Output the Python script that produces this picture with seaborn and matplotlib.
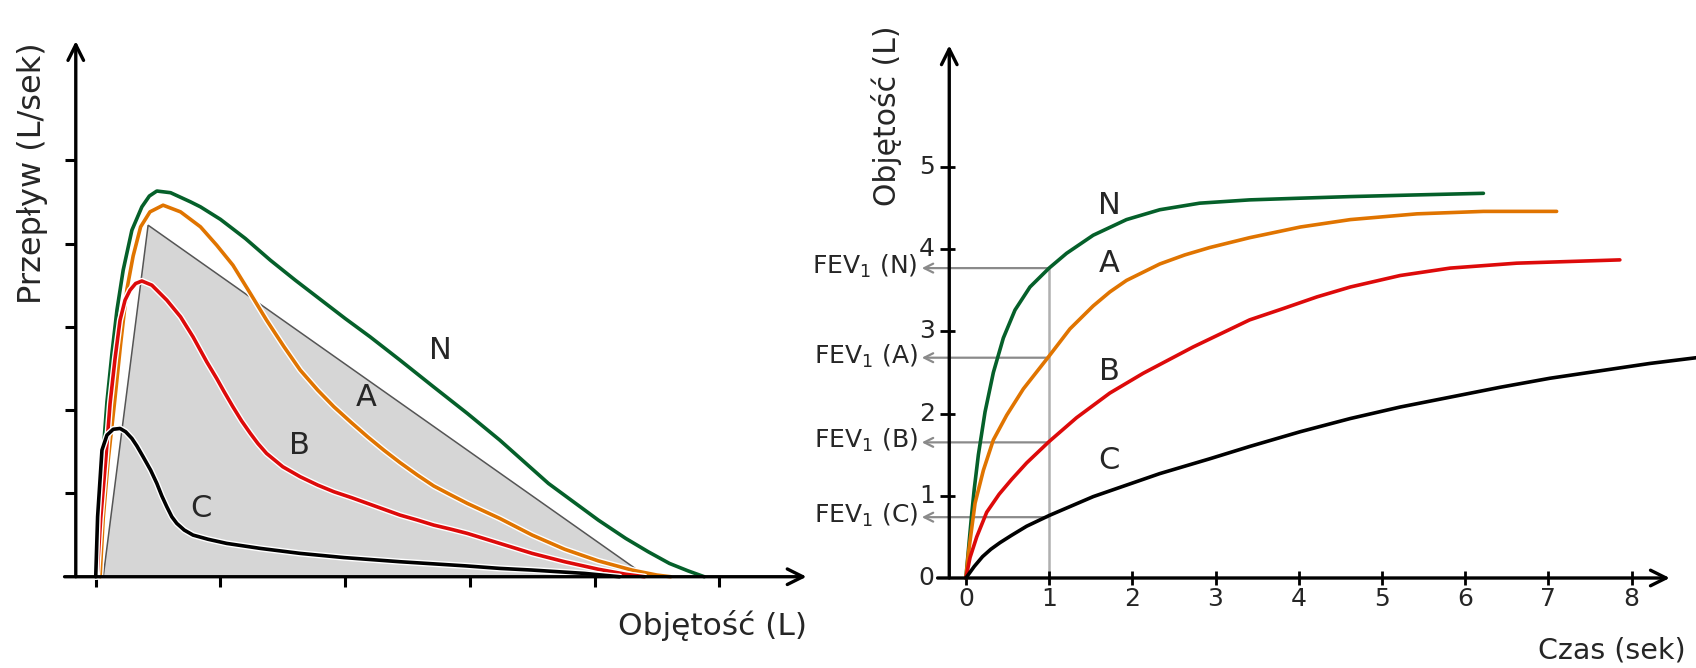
import matplotlib
matplotlib.use('Agg')
import matplotlib.pyplot as plt
import matplotlib.patheffects as pe
import seaborn as sns
import pandas as pd

sns.set_style('white')
plt.rcParams['font.family'] = ['DejaVu Sans']

# --- left panel: flow-volume curves (Objetosc L vs Przeplyw L/sek)
vol_N = [0, 0.03, 0.06, 0.09, 0.13, 0.17, 0.22, 0.29, 0.37, 0.43, 0.49, 0.60, 0.76, 0.84, 1.0, 1.2, 1.4, 1.6, 1.8, 2.0, 2.2, 2.44, 2.7, 2.98, 3.24, 3.63, 4.03, 4.25, 4.43, 4.6, 4.75, 4.88]
flow_N = [0, 0.8, 1.5, 2.1, 2.68, 3.2, 3.68, 4.16, 4.44, 4.57, 4.63, 4.61, 4.50, 4.44, 4.29, 4.06, 3.80, 3.56, 3.33, 3.10, 2.88, 2.60, 2.29, 1.96, 1.64, 1.12, 0.68, 0.46, 0.30, 0.16, 0.07, 0.0]
vol_A = [0.035, 0.06, 0.10, 0.15, 0.20, 0.25, 0.30, 0.36, 0.435, 0.54, 0.68, 0.84, 0.97, 1.10, 1.24, 1.37, 1.51, 1.64, 1.78, 1.91, 2.05, 2.18, 2.31, 2.44, 2.58, 2.71, 2.85, 2.98, 3.24, 3.50, 3.76, 4.03, 4.30, 4.50, 4.61]
flow_A = [0, 0.7, 1.4, 2.08, 2.8, 3.45, 3.85, 4.2, 4.38, 4.46, 4.38, 4.20, 3.98, 3.74, 3.40, 3.08, 2.76, 2.48, 2.24, 2.04, 1.85, 1.68, 1.52, 1.37, 1.22, 1.09, 0.98, 0.88, 0.70, 0.50, 0.33, 0.19, 0.08, 0.02, 0.0]
vol_B = [0.01, 0.04, 0.08, 0.115, 0.155, 0.195, 0.235, 0.275, 0.32, 0.37, 0.45, 0.57, 0.68, 0.78, 0.89, 0.97, 1.03, 1.10, 1.17, 1.24, 1.30, 1.37, 1.50, 1.64, 1.78, 1.91, 2.05, 2.18, 2.31, 2.44, 2.58, 2.71, 2.85, 2.98, 3.24, 3.50, 3.76, 4.03, 4.25, 4.40]
flow_B = [0, 0.7, 1.4, 2.08, 2.62, 3.08, 3.32, 3.44, 3.52, 3.55, 3.50, 3.32, 3.12, 2.88, 2.58, 2.38, 2.22, 2.04, 1.87, 1.72, 1.60, 1.48, 1.32, 1.20, 1.10, 1.02, 0.95, 0.88, 0.81, 0.74, 0.68, 0.62, 0.57, 0.52, 0.40, 0.28, 0.18, 0.09, 0.03, 0.0]
vol_C = [0, 0.015, 0.05, 0.09, 0.14, 0.195, 0.24, 0.29, 0.33, 0.38, 0.44, 0.49, 0.53, 0.57, 0.61, 0.65, 0.71, 0.78, 0.9, 1.05, 1.32, 1.64, 1.99, 2.44, 2.97, 3.24, 3.50, 3.92, 4.20]
flow_C = [0, 0.72, 1.52, 1.70, 1.77, 1.78, 1.74, 1.66, 1.57, 1.44, 1.28, 1.12, 0.97, 0.84, 0.72, 0.64, 0.56, 0.50, 0.45, 0.40, 0.34, 0.28, 0.23, 0.18, 0.13, 0.10, 0.08, 0.04, 0.0]
tri_vol = [0.06, 0.42, 4.42]
tri_flow = [0, 4.22, 0]
lab_left = {'N': (2.76, 2.71), 'A': (2.17, 2.15), 'B': (1.63, 1.57), 'C': (0.84, 0.82)}

# --- right panel: volume-time curves (Czas sek vs Objetosc L)
t_N = [0, 0.04, 0.07, 0.10, 0.15, 0.23, 0.33, 0.45, 0.59, 0.77, 1.0, 1.21, 1.53, 1.93, 2.33, 2.81, 3.41, 4.0, 4.62, 5.4, 6.22]
v_N = [0, 0.45, 0.78, 1.08, 1.50, 2.02, 2.50, 2.92, 3.26, 3.54, 3.77, 3.95, 4.17, 4.36, 4.48, 4.56, 4.60, 4.62, 4.64, 4.66, 4.68]
t_A = [0, 0.03, 0.11, 0.21, 0.33, 0.49, 0.69, 1.0, 1.25, 1.53, 1.73, 1.93, 2.33, 2.63, 2.93, 3.41, 4.02, 4.62, 5.42, 6.22, 7.10]
v_A = [0, 0.30, 0.91, 1.31, 1.68, 1.98, 2.30, 2.70, 3.03, 3.31, 3.48, 3.62, 3.82, 3.93, 4.02, 4.14, 4.27, 4.36, 4.43, 4.46, 4.46]
t_B = [0, 0.05, 0.13, 0.25, 0.40, 0.55, 0.73, 1.0, 1.33, 1.73, 2.13, 2.73, 3.41, 3.82, 4.22, 4.62, 5.22, 5.82, 6.62, 7.86]
v_B = [0, 0.25, 0.50, 0.80, 1.02, 1.20, 1.40, 1.66, 1.95, 2.25, 2.49, 2.81, 3.14, 3.28, 3.42, 3.54, 3.68, 3.77, 3.83, 3.87]
t_C = [0, 0.1, 0.2, 0.3, 0.41, 0.55, 0.73, 1.0, 1.53, 1.93, 2.33, 2.93, 3.41, 4.02, 4.62, 5.22, 5.82, 6.42, 7.02, 7.62, 8.22, 8.78]
v_C = [0, 0.14, 0.26, 0.35, 0.43, 0.52, 0.63, 0.76, 0.99, 1.13, 1.27, 1.45, 1.60, 1.78, 1.94, 2.08, 2.20, 2.32, 2.43, 2.52, 2.61, 2.68]
fev1 = {'N': 3.77, 'A': 2.68, 'B': 1.65, 'C': 0.74}
lab_right = {'N': (1.72, 4.53), 'A': (1.72, 3.82), 'B': (1.72, 2.51), 'C': (1.72, 1.43)}

colors = {'N': '#05602a', 'A': '#e07400', 'B': '#dd0a0a', 'C': '#000000'}

fig = plt.figure(figsize=(16.96, 6.68), dpi=100)
W, H = 1696, 668

# ----- left axes
axL = fig.add_axes([2.2 / W, (H - 664.2) / H, 810.6 / W, 658.1 / H])
axL.set_xlim(-0.75, 5.75)
axL.set_ylim(-1.05, 6.85)
axL.set_axis_off()

axL.fill(tri_vol, tri_flow, facecolor='#d6d6d6', edgecolor='#555555', lw=1.1, zorder=1)

halo = [pe.Stroke(linewidth=4.6, foreground='white'), pe.Normal()]
left_df = pd.concat([
    pd.DataFrame({'vol': vol_N, 'flow': flow_N, 'k': 'N'}),
    pd.DataFrame({'vol': vol_A, 'flow': flow_A, 'k': 'A'}),
    pd.DataFrame({'vol': vol_B, 'flow': flow_B, 'k': 'B'}),
    pd.DataFrame({'vol': vol_C, 'flow': flow_C, 'k': 'C'}),
])
for i, k in enumerate(['N', 'A', 'B', 'C']):
    d = left_df[left_df['k'] == k]
    sns.lineplot(data=d, x='vol', y='flow', sort=False, estimator=None, color=colors[k],
                 lw=2.6, ax=axL, zorder=3 + i, path_effects=halo)
    axL.text(*lab_left[k], k, fontsize=22, ha='center', va='center', zorder=10)

arr = dict(arrowstyle='->', lw=2.4, color='black', mutation_scale=28, shrinkA=0, shrinkB=0)
axL.annotate('', xy=(5.70, 0), xytext=(-0.25, 0), arrowprops=arr, zorder=12)
axL.annotate('', xy=(-0.16, 6.43), xytext=(-0.16, 0), arrowprops=arr, zorder=12)
for x in range(0, 6):
    axL.plot([x, x], [0, -0.12], color='black', lw=2.2, solid_capstyle='butt')
for y in range(1, 6):
    axL.plot([-0.25, -0.16], [y, y], color='black', lw=2.2, solid_capstyle='butt')
axL.text(-0.51, 4.85, 'Przepływ (L/sek)', rotation=90, fontsize=23, ha='center', va='center')
axL.text(5.70, -0.58, 'Objętość (L)', fontsize=22.5, ha='right', va='center')

# ----- right axes
axR = fig.add_axes([799.5 / W, (H - 660.2) / H, 896.9 / W, 657.6 / H])
axR.set_xlim(-2.0, 8.78)
axR.set_ylim(-1.0, 7.0)
axR.set_axis_off()

for k in ['N', 'A', 'B', 'C']:
    axR.annotate('', xy=(-0.53, fev1[k]), xytext=(1.0, fev1[k]),
                 arrowprops=dict(arrowstyle='->', lw=1.6, color='#8a8a8a', mutation_scale=16,
                                 shrinkA=0, shrinkB=0), zorder=2)
    axR.text(-0.58, fev1[k] + 0.02, 'FEV$_1$ (%s)' % k, fontsize=18, ha='right', va='center')
axR.plot([1.0, 1.0], [0, fev1['N']], color='#b0b0b0', lw=1.8, zorder=2)

right_df = pd.concat([
    pd.DataFrame({'t': t_N, 'v': v_N, 'k': 'N'}),
    pd.DataFrame({'t': t_A, 'v': v_A, 'k': 'A'}),
    pd.DataFrame({'t': t_B, 'v': v_B, 'k': 'B'}),
    pd.DataFrame({'t': t_C, 'v': v_C, 'k': 'C'}),
])
for i, k in enumerate(['N', 'A', 'B', 'C']):
    d = right_df[right_df['k'] == k]
    sns.lineplot(data=d, x='t', y='v', sort=False, estimator=None, color=colors[k],
                 lw=2.6, ax=axR, zorder=3 + i)
    axR.text(*lab_right[k], k, fontsize=22, ha='center', va='center', zorder=10)

axR.annotate('', xy=(8.46, 0), xytext=(-0.34, 0), arrowprops=arr, zorder=12)
axR.annotate('', xy=(-0.2, 6.48), xytext=(-0.2, 0), arrowprops=arr, zorder=12)
for x in range(0, 9):
    axR.plot([x, x], [0.08, -0.08], color='black', lw=2.0, solid_capstyle='butt')
    axR.text(x, -0.25, str(x), fontsize=18, ha='center', va='center')
for y in range(0, 6):
    if y > 0:
        axR.plot([-0.31, -0.13], [y, y], color='black', lw=2.0, solid_capstyle='butt')
    axR.text(-0.47, y, str(y), fontsize=18, ha='center', va='center')
axR.text(-0.95, 5.62, 'Objętość (L)', rotation=90, fontsize=21.5, ha='center', va='center')
axR.text(8.65, -0.88, 'Czas (sek)', fontsize=20.5, ha='right', va='center')

fig.savefig('out.png', dpi=100)
